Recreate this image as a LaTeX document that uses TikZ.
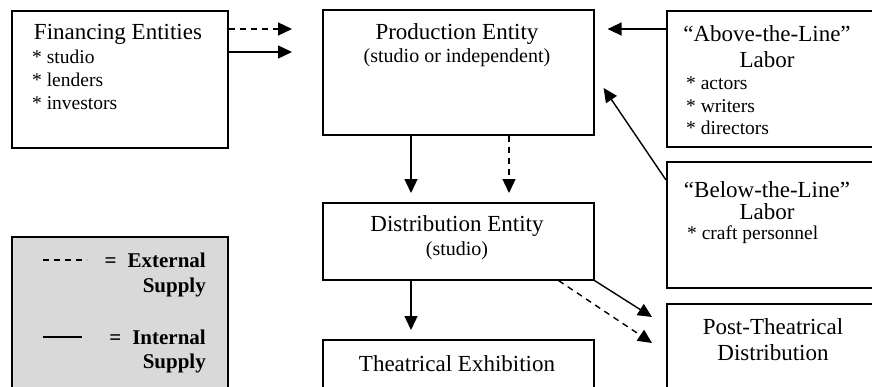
\documentclass[tikz,border=0pt]{standalone}
\usepackage{fontspec}
\setmainfont{Liberation Serif}
\usetikzlibrary{arrows.meta,calc}
\begin{document}
\begin{tikzpicture}[x=1pt,y=-1pt,
  box/.style={draw,line width=1.6pt,rectangle,anchor=north west,inner sep=0pt},
  big/.style={inner sep=0pt,font=\fontsize{23}{27}\selectfont},
  mid/.style={inner sep=0pt,font=\fontsize{20}{24}\selectfont},
  item/.style={inner sep=0pt,anchor=west,font=\fontsize{19.5}{23}\selectfont},
  leg/.style={inner sep=0pt,anchor=east,font=\fontsize{21}{25}\selectfont\bfseries},
  flow/.style={line width=1.4pt,-{Triangle[length=14pt,width=13pt]}},
  ext/.style={flow,dash pattern=on 6pt off 5pt}]
\useasboundingbox (0,0) rectangle (872,386);
\clip (0,0) rectangle (872,386);
% boxes
\node[box,minimum width=216pt,minimum height=137pt] (fin) at (11,10) {};
\node[box,minimum width=271pt,minimum height=125pt] (prod) at (322,9) {};
\node[box,minimum width=230pt,minimum height=136pt] (above) at (666,10) {};
\node[box,minimum width=230pt,minimum height=126pt] (below) at (666,161) {};
\node[box,minimum width=271pt,minimum height=77pt] (dist) at (322,202) {};
\node[box,minimum width=271pt,minimum height=70pt] (theat) at (322,339) {};
\node[box,minimum width=230pt,minimum height=100pt] (post) at (666,303) {};
\node[box,fill={rgb,255:red,217;green,217;blue,217},minimum width=216pt,minimum height=170pt] (legend) at (11,236) {};
% texts
\node[big] (finT) at (118,34) {Financing Entities};
\node[item] (fin1) at (32,57) {* studio};
\node[item] (fin2) at (32,80) {* lenders};
\node[item] (fin3) at (32,103) {* investors};
\node[big] (prodT) at (457,34) {Production Entity};
\node[mid] (prodS) at (457,58) {(studio or independent)};
\node[big] (aboveT) at (767,34) {“Above-the-Line”};
\node[big] (aboveL) at (767,60) {Labor};
\node[item] (ab1) at (686,83) {* actors};
\node[item] (ab2) at (686,106) {* writers};
\node[item] (ab3) at (686,128) {* directors};
\node[big] (belowT) at (767,190) {“Below-the-Line”};
\node[big] (belowL) at (767,212) {Labor};
\node[item] (be1) at (687,235) {* craft personnel};
\node[big] (distT) at (457,226) {Distribution Entity};
\node[mid] (distS) at (457,251) {(studio)};
\node[big] (theatT) at (457,364) {Theatrical Exhibition};
\node[big] (postT) at (773,327) {Post-Theatrical};
\node[big] (postD) at (773,353) {Distribution};
\node[leg] (legE) at (206,260) {=\hspace{11pt}External};
\node[leg] (legES) at (206,287) {Supply};
\node[leg] (legI) at (206,337) {=\hspace{11pt}Internal};
\node[leg] (legIS) at (206,363) {Supply};
\coordinate (legEa) at (43,260);
\coordinate (legEb) at (87,260);
\coordinate (legIa) at (43,337);
\coordinate (legIb) at (82,337);
\draw[line width=1.3pt,dash pattern=on 6pt off 5pt] (legEa) -- (legEb);
\draw[line width=2.4pt] (legIa) -- (legIb);
% connectors
\draw[ext] ($(fin.north east)+(0,19)$) -- ($(prod.north west)+(-30,20)$);
\draw[flow] ($(fin.north east)+(0,42)$) -- ($(prod.north west)+(-30,43)$);
\draw[flow] ($(above.north west)+(0,19)$) -- ($(prod.north east)+(13,20)$);
\draw[flow] ($(below.north west)+(0,19)$) -- ($(prod.north east)+(9,79)$);
\draw[flow] ($(prod.south west)+(89,0)$) -- ($(dist.north west)+(89,-9)$);
\draw[ext] ($(prod.south west)+(187,0)$) -- ($(dist.north west)+(187,-9)$);
\draw[flow] ($(dist.south west)+(89,0)$) -- ($(theat.north west)+(89,-9)$);
\draw[flow] (dist.south east) -- ($(post.north west)+(-14,14)$);
\draw[ext] ($(dist.south east)+(-36,0)$) -- ($(post.north west)+(-14,40)$);
\end{tikzpicture}
\end{document}
